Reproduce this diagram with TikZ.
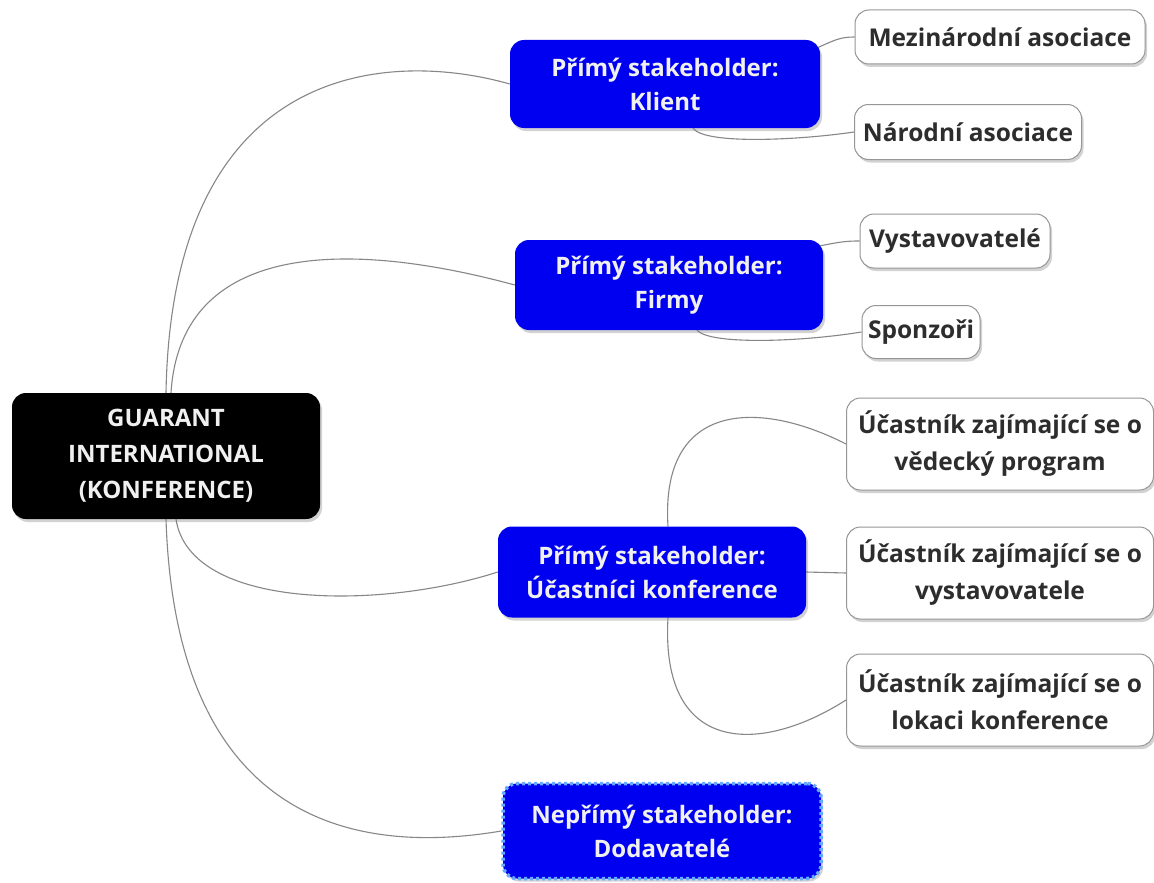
\documentclass[tikz,border=0pt]{standalone}
\usepackage{fontspec}
\setmainfont{Open Sans}
\usetikzlibrary{shadows,backgrounds}
\definecolor{nodeblue}{RGB}{0,0,240}
\definecolor{dotblue}{RGB}{100,170,255}
\definecolor{conngray}{RGB}{135,135,135}
\definecolor{leafborder}{RGB}{150,150,150}
\definecolor{leaftext}{RGB}{45,45,45}
\definecolor{lighttext}{RGB}{240,240,240}
\tikzset{
  base/.style={rounded corners=14pt, align=center, inner sep=0pt,
    drop shadow={shadow xshift=2pt, shadow yshift=-3pt, opacity=0.35}},
  rootbox/.style={base, fill=black, text=lighttext, font=\bfseries\fontsize{24}{36}\selectfont},
  mainbox/.style={base, fill=nodeblue, text=lighttext, font=\bfseries\fontsize{24}{34}\selectfont},
  dotbox/.style={mainbox, draw=dotblue, line width=3.5pt, dash pattern=on 3pt off 3pt},
  leafbox/.style={base, fill=white, draw=leafborder, line width=1pt, text=leaftext, font=\bfseries\fontsize{24.5}{37}\selectfont},
  conn/.style={draw=conngray, line width=1.1pt}
}
\begin{document}
\begin{tikzpicture}[x=1pt, y=-1pt]
\useasboundingbox (0,0) rectangle (1154,883);

% nodes
\node[rootbox, minimum width=308pt, minimum height=126pt] (root) at (166,456)
  {GUARANT\\INTERNATIONAL\\(KONFERENCE)};
\node[mainbox, minimum width=310pt, minimum height=88pt] (klient) at (665,84)
  {Přímý stakeholder:\\Klient};
\node[mainbox, minimum width=308pt, minimum height=90pt] (firmy) at (669,285)
  {Přímý stakeholder:\\Firmy};
\node[mainbox, minimum width=308pt, minimum height=91pt] (uc) at (652,572)
  {Přímý stakeholder:\\Účastníci konference};
\node[dotbox, minimum width=318pt, minimum height=95pt] (dod) at (662,831)
  {Nepřímý stakeholder:\\Dodavatelé};

\node[leafbox, minimum width=290pt, minimum height=54pt] (mez) at (1000,37)
  {Mezinárodní asociace};
\node[leafbox, minimum width=227pt, minimum height=55pt] (nar) at (968,132)
  {Národní asociace};
\node[leafbox, minimum width=190pt, minimum height=54pt] (vys) at (955,241)
  {Vystavovatelé};
\node[leafbox, minimum width=118pt, minimum height=53pt] (spo) at (921,332)
  {Sponzoři};
\node[leafbox, minimum width=307pt, minimum height=92pt] (u1) at (1000,444)
  {Účastník zajímající se o\\vědecký program};
\node[leafbox, minimum width=307pt, minimum height=92pt] (u2) at (1000,573)
  {Účastník zajímající se o\\vystavovatele};
\node[leafbox, minimum width=307pt, minimum height=92pt] (u3) at (1000,700)
  {Účastník zajímající se o\\lokaci konference};

% connectors
\begin{scope}[on background layer]
\fill[white] (0,0) rectangle (1154,883);
\path[conn] (root.north) .. controls (172,60) and (390,50) .. (klient.west);
\path[conn] ([xshift=5pt]root.north) .. controls (180,250) and (330,235) .. (firmy.west);
\path[conn] ([xshift=10pt]root.south) .. controls (190,610) and (380,610) .. (uc.west);
\path[conn] (root.south) .. controls (175,800) and (330,860) .. (dod.west);

\path[conn] ([shift={(-3pt,-8pt)}]klient.north east) .. controls (835,40) and (840,37) .. (mez.west);
\path[conn] ([xshift=28pt]klient.south) .. controls (705,145) and (800,140) .. (nar.west);
\path[conn] ([shift={(-3pt,-6pt)}]firmy.north east) .. controls (840,242) and (845,241) .. (vys.west);
\path[conn] ([xshift=28pt]firmy.south) .. controls (710,345) and (800,342) .. (spo.west);

\path[conn] ([xshift=16pt]uc.north) .. controls (660,400) and (760,400) .. (u1.west);
\path[conn] (uc.east) -- (u2.west);
\path[conn] ([xshift=16pt]uc.south) .. controls (660,755) and (760,755) .. (u3.west);
\end{scope}
\end{tikzpicture}
\end{document}
